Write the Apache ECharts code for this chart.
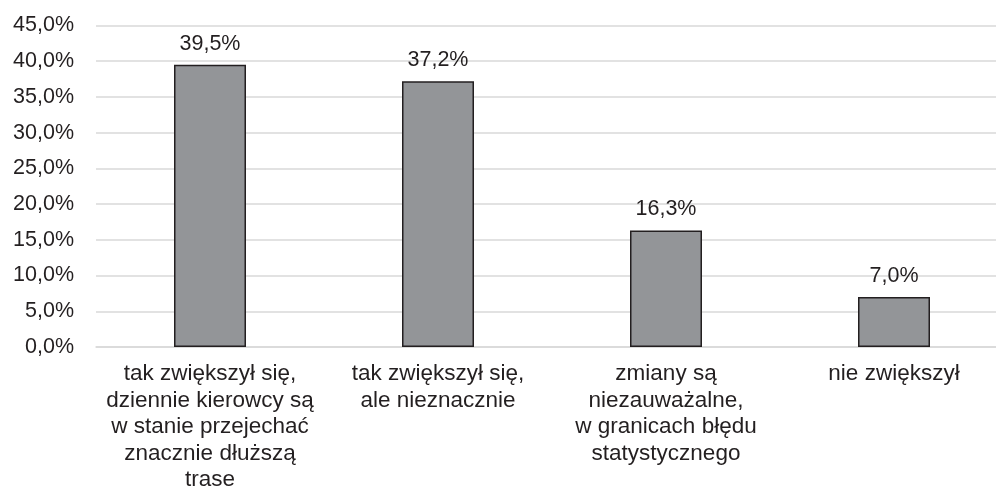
<!DOCTYPE html>
<html>
<head>
<meta charset="utf-8">
<script src="https://cdn.jsdelivr.net/npm/echarts@6/dist/echarts.min.js"></script>
<style>
    html, body { margin: 0; padding: 0; background: #fff; }
    #chart { width: 996px; height: 486px; }
</style>
</head>
<body>
<div id="chart"></div>
<script>
// kategorie odpowiedzi
var categories = [
    'tak zwiększył się,\ndziennie kierowcy są\nw stanie przejechać\nznacznie dłuższą\ntrase',
    'tak zwiększył się,\nale nieznacznie',
    'zmiany są\nniezauważalne,\nw granicach błędu\nstatystycznego',
    'nie zwiększył'
];
// udział odpowiedzi w %
var values = [39.5, 37.2, 16.3, 7.0];

function pct(v) {
    return v.toFixed(1).replace('.', ',') + '%';
}

var chart = echarts.init(document.getElementById('chart'));
var option = {
    animation: false,
    textStyle: {
        fontFamily: 'Liberation Sans, Arial, sans-serif'
    },
    grid: {
        left: 96,
        top: 25.5,
        width: 912,
        height: 321.5,
        outerBoundsMode: 'none'
    },
    xAxis: {
        type: 'category',
        data: categories,
        axisLine: { show: true, lineStyle: { color: '#d9d9d9', width: 1.5 } },
        axisTick: { show: false },
        axisLabel: {
            interval: 0,
            color: '#231f20',
            fontSize: 22.5,
            lineHeight: 26.5,
            margin: 14
        }
    },
    yAxis: {
        type: 'value',
        min: 0,
        max: 45,
        interval: 5,
        axisLine: { show: false },
        axisTick: { show: false },
        splitLine: { lineStyle: { color: '#d9d9d9', width: 1.5 } },
        axisLabel: {
            color: '#231f20',
            fontSize: 21.5,
            margin: 22,
            formatter: function (v) { return pct(v); }
        }
    },
    series: [{
        type: 'bar',
        data: values,
        barWidth: 72,
        itemStyle: {
            color: '#939598',
            borderColor: '#231f20',
            borderWidth: 1.5
        },
        label: {
            show: true,
            position: 'top',
            distance: 10,
            color: '#231f20',
            fontSize: 21.5,
            formatter: function (p) { return pct(p.value); }
        }
    }]
};
chart.setOption(option);
</script>
</body>
</html>
